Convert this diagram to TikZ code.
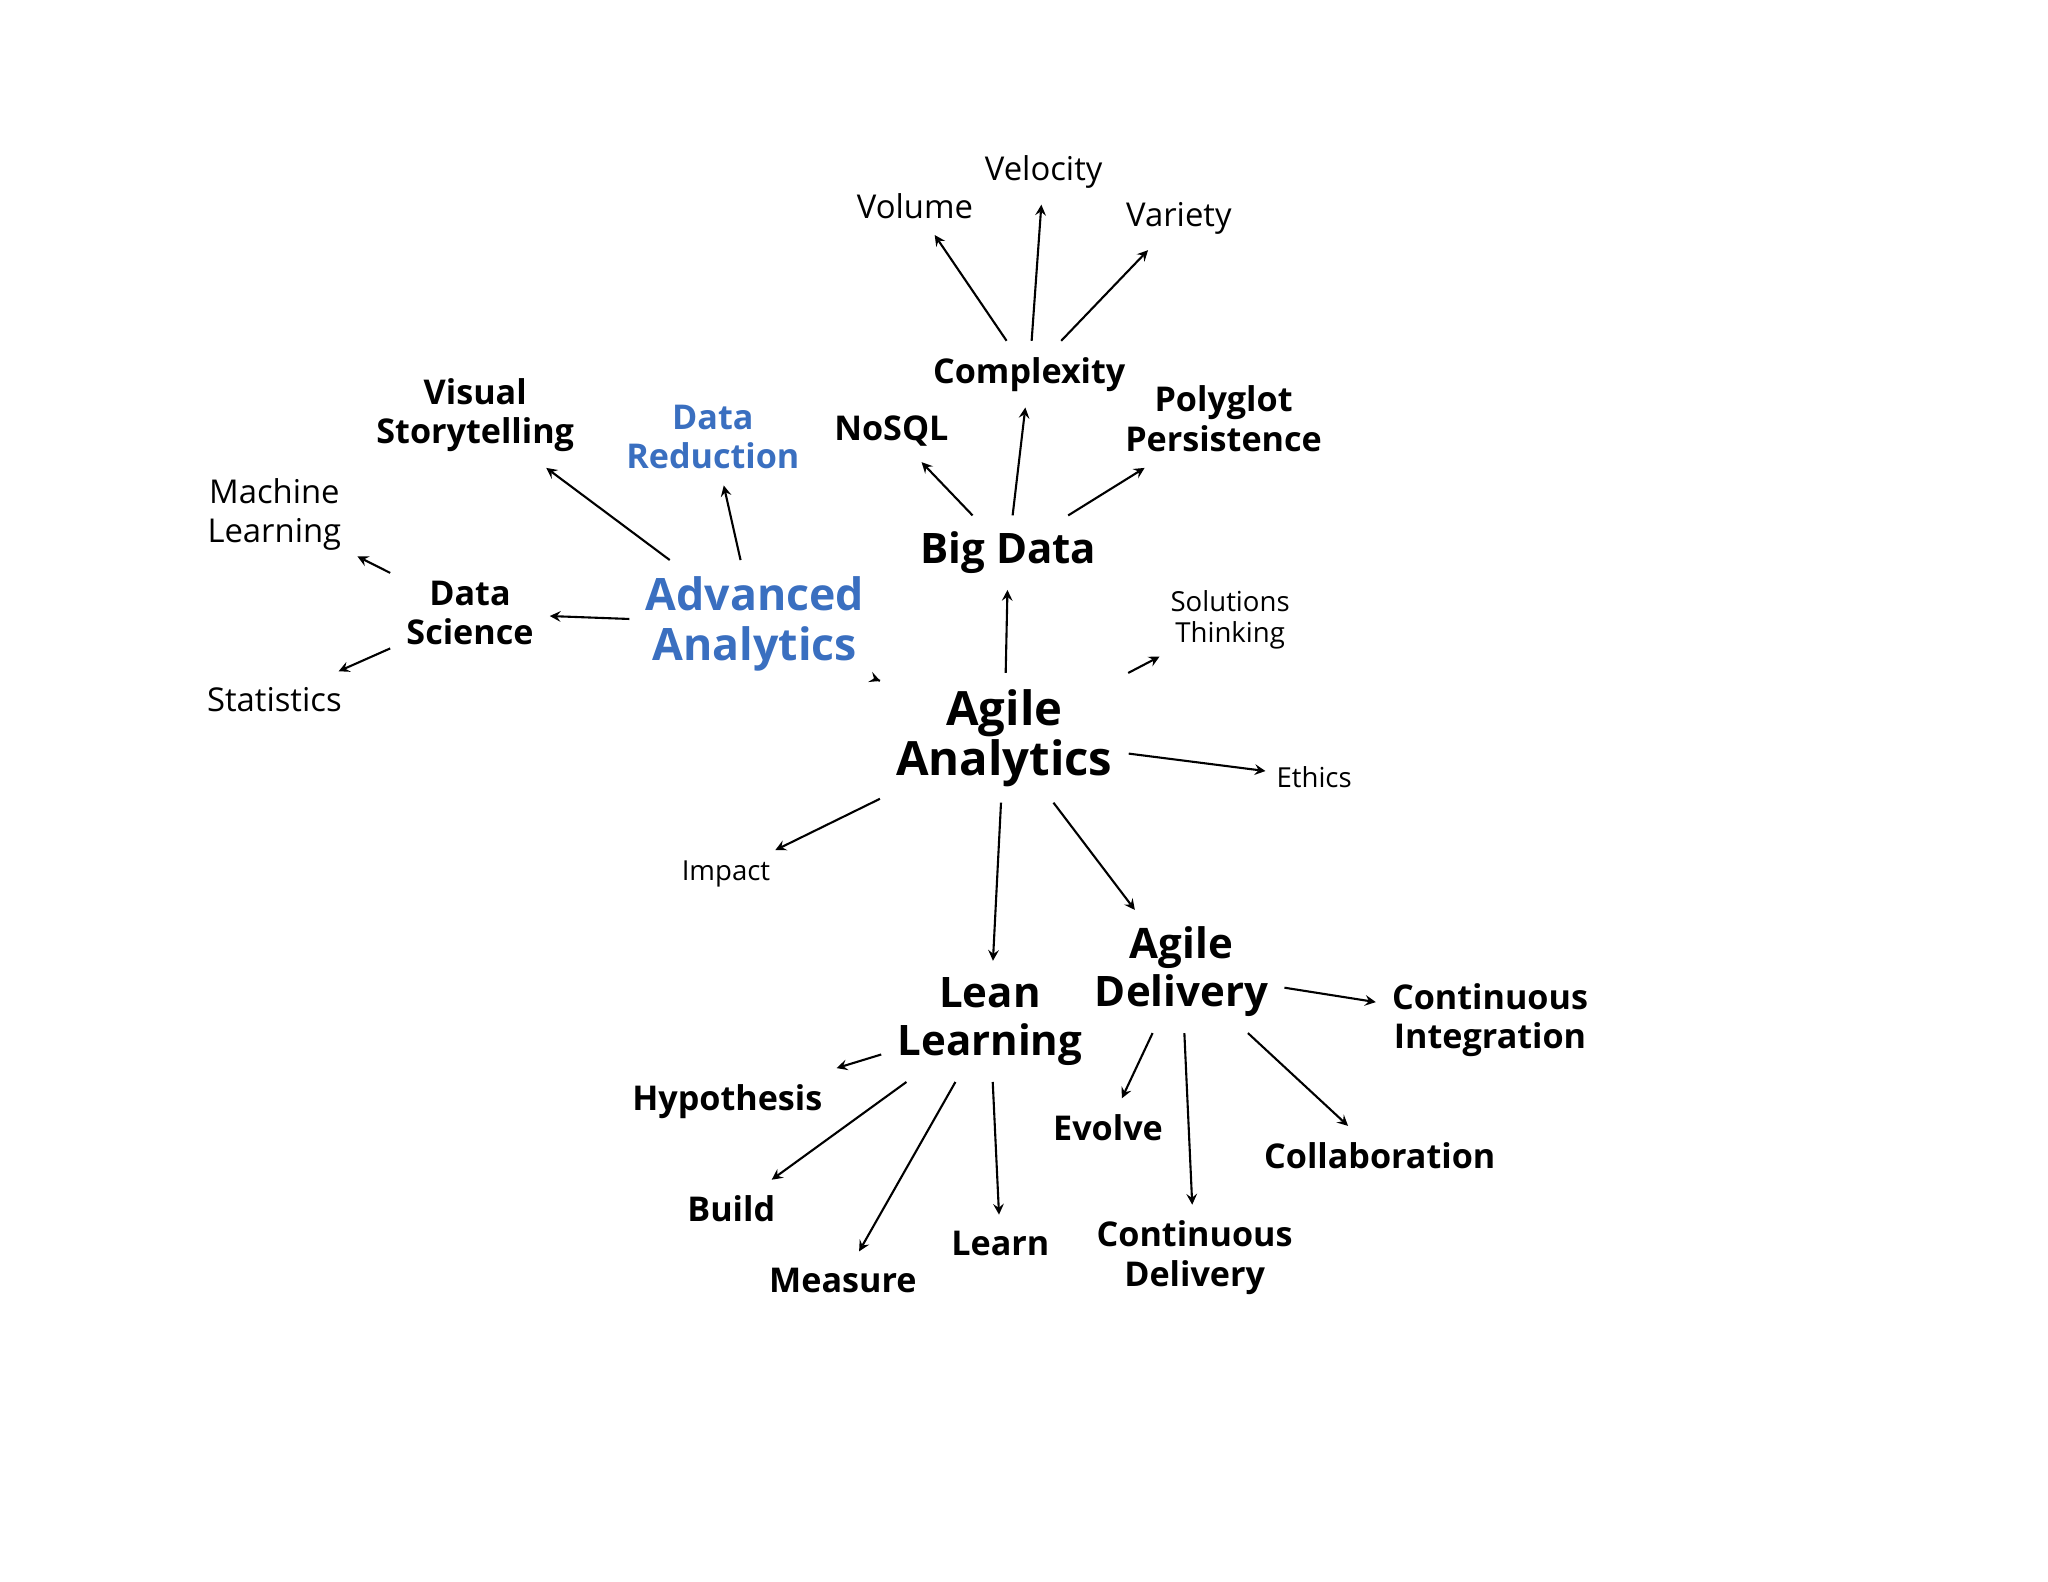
\documentclass[tikz,border=0pt]{standalone}
\usepackage{fontspec}
\setmainfont{Open Sans}
\definecolor{aablue}{HTML}{3A6FC0}
\begin{document}
\begin{tikzpicture}[x=0.5pt,y=-0.5pt,
  n/.style={align=center,inner sep=6pt,font=\fontsize{12.5}{15}\selectfont},
  nb/.style={n,font=\bfseries\fontsize{13}{15}\selectfont},
  ns/.style={n,font=\fontsize{10.5}{12}\selectfont,inner sep=4pt},
  big/.style={n,font=\bfseries\fontsize{16}{18.5}\selectfont},
  blu/.style={text=aablue},
  ar/.style={->,>=stealth,thick,line width=0.8pt}]
\useasboundingbox (0,0) rectangle (1560,1205);
\node[n,font=\bfseries\fontsize{18}{17.5}\selectfont] (aa) at (765,562) {Agile\\Analytics};
\node[big] (bd) at (768,421) {Big Data};
\node[nb] (cx) at (784,285) {Complexity};
\node[n] (vol) at (697,157) {Volume};
\node[n] (vel) at (795,131) {Velocity};
\node[n] (var) at (898,166) {Variety};
\node[nb] (nosql) at (679,328) {NoSQL};
\node[nb] (pp) at (932,319) {Polyglot\\Persistence};
\node[big,blu,font=\bfseries\fontsize{17}{19}\selectfont] (adv) at (575,475) {Advanced\\Analytics};
\node[nb,blu] (dr) at (543,333) {Data\\Reduction};
\node[nb] (vs) at (362,316) {Visual\\Storytelling};
\node[nb] (ds) at (358,467) {Data\\Science};
\node[n] (ml) at (209,392) {Machine\\Learning};
\node[n] (st) at (209,533) {Statistics};
\node[ns] (sol) at (937,472) {Solutions\\Thinking};
\node[ns] (eth) at (1001,592) {Ethics};
\node[ns] (imp) at (553,666) {Impact};
\node[big] (ll) at (754,778) {Lean\\Learning};
\node[big] (ad) at (900,740) {Agile\\Delivery};
\node[nb] (ci) at (1135,777) {Continuous\\Integration};
\node[nb] (col) at (1051,880) {Collaboration};
\node[nb] (evo) at (844,859) {Evolve};
\node[nb] (cd) at (910,958) {Continuous\\Delivery};
\node[nb] (hyp) at (554,839) {Hypothesis};
\node[nb] (bld) at (557,921) {Build};
\node[nb] (mea) at (642,975) {Measure};
\node[nb] (lrn) at (762,947) {Learn};
\draw[ar] (aa) -- (bd);
\draw[ar] (bd) -- (cx);
\draw[ar] (cx) -- (vol);
\draw[ar] (cx) -- (vel);
\draw[ar] (cx) -- (var);
\draw[ar] (bd) -- (nosql);
\draw[ar] (bd) -- (pp);
\draw[ar] (aa) -- (adv);
\draw[ar] (adv) -- (dr);
\draw[ar] (adv) -- (vs);
\draw[ar] (adv) -- (ds);
\draw[ar] (ds) -- (ml);
\draw[ar] (ds) -- (st);
\draw[ar] (aa) -- (sol);
\draw[ar] (aa) -- (eth);
\draw[ar] (aa) -- (imp);
\draw[ar] (aa) -- (ll);
\draw[ar] (aa) -- (ad);
\draw[ar] (ad) -- (ci);
\draw[ar] (ad) -- (col);
\draw[ar] (ad) -- (evo);
\draw[ar] (ad) -- (cd);
\draw[ar] (ll) -- (hyp);
\draw[ar] (ll) -- (bld);
\draw[ar] (ll) -- (mea);
\draw[ar] (ll) -- (lrn);
\end{tikzpicture}
\end{document}
